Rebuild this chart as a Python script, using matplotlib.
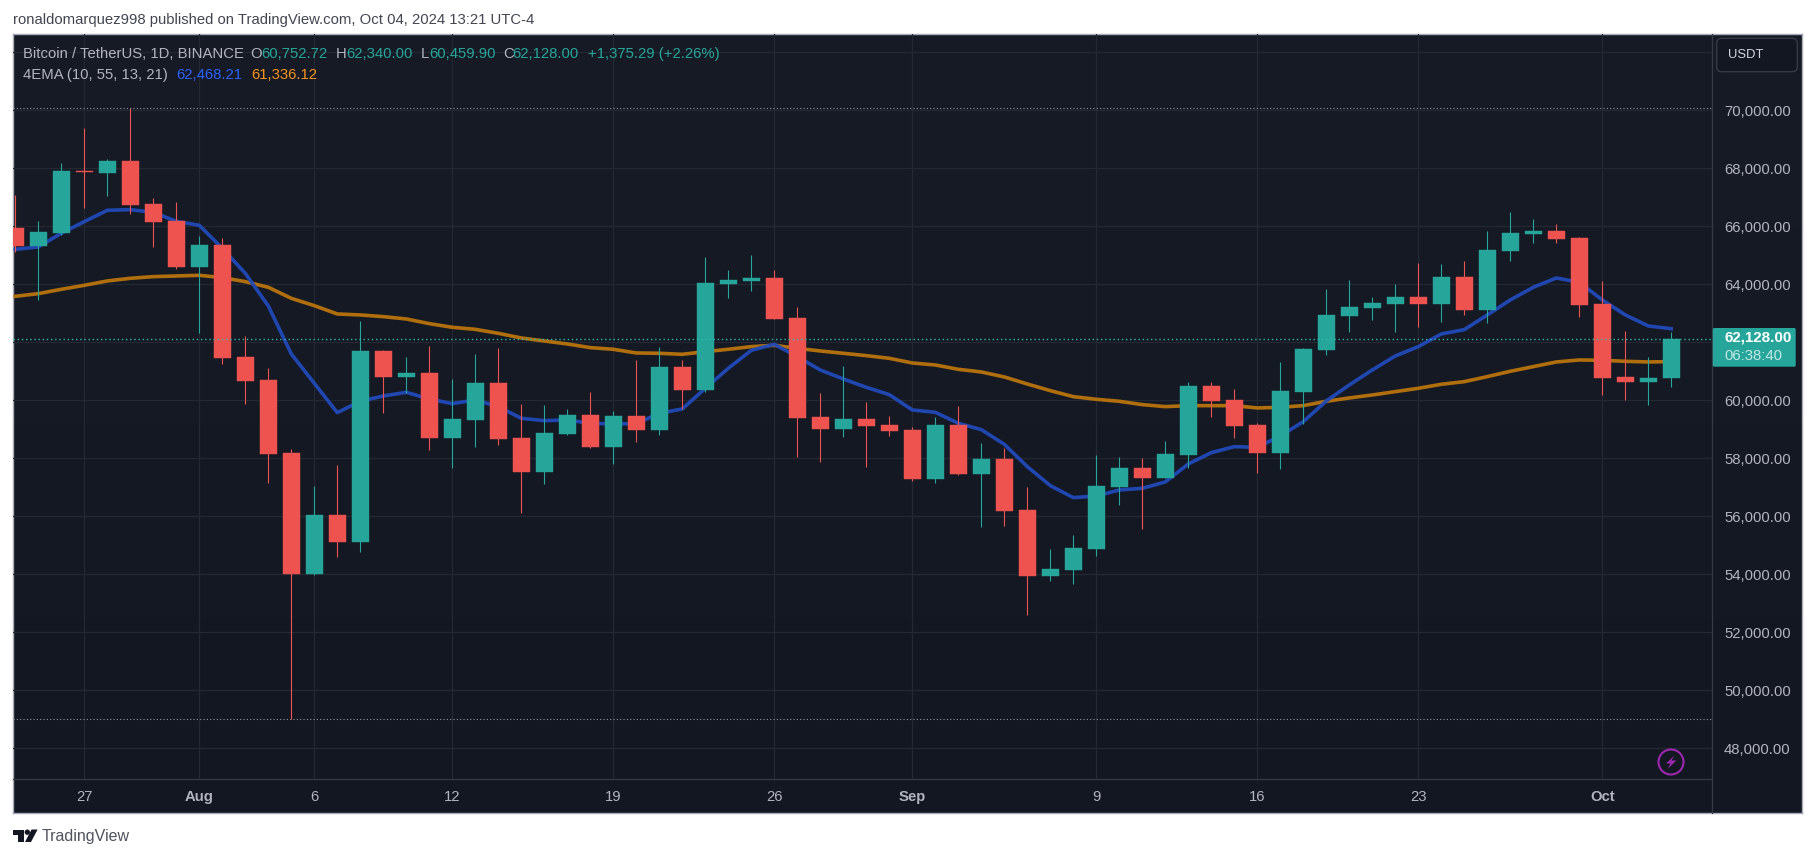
"""
BTC/USDT daily candles with two EMAs, dark TradingView snapshot style.
"""

import numpy as np
import pandas as pd
import matplotlib
matplotlib.use("Agg")
import matplotlib.pyplot as plt
import matplotlib.dates as mdates
from matplotlib.colors import LinearSegmentedColormap
from matplotlib.lines import Line2D
from matplotlib.patches import Circle, FancyBboxPatch, Polygon

# =============================================================================
# DATA (daily, 2024-07-24 -> 2024-10-04)
# =============================================================================

START_DATE = "2024-07-24"

OPENS = [
    65942, 65322, 65770, 67908, 67839, 68253, 66770, 66184, 64598, 65356,
    61494, 60701, 58184, 54012, 56046, 55115, 61701, 60805, 60943, 58701,
    59322, 60598, 58701, 57529, 58839, 59494, 58391, 59460, 58977, 61149,
    60356, 64011, 64115, 64218, 62839, 59425, 59012, 59356, 59149, 58977,
    57287, 59149, 57460, 57977, 56218, 53943, 54150, 54874, 57012, 57667,
    57322, 58115, 60494, 60011, 59149, 58184, 60287, 61736, 62908, 63184,
    63322, 63563, 63322, 64253, 63115, 65149, 65736, 65839, 65598, 63322,
    60805, 60632, 60752.72,
]
HIGHS = [
    67080, 66184, 68184, 69391, 68322, 70079, 66977, 66839, 65667, 65598,
    62218, 61115, 58322, 57046, 57770, 62736, 61736, 61494, 61874, 60736,
    61598, 61805, 59874, 59839, 59701, 60287, 59632, 61391, 61839, 61391,
    64942, 64494, 65011, 64494, 63218, 60253, 61184, 59943, 59460, 59081,
    59425, 59805, 58529, 58356, 57012, 54874, 55356, 58115, 58046, 58012,
    58598, 60632, 60632, 60391, 59218, 61322, 61805, 63839, 64149, 63563,
    64011, 64736, 64701, 64805, 65839, 66494, 66253, 66080, 65620, 64115,
    62391, 61494, 62340.00,
]
LOWS = [
    65126, 63460, 65701, 66632, 67046, 66425, 65287, 64529, 62322, 61253,
    59874, 57150, 49000, 53977, 54598, 54770, 59563, 60253, 58287, 57667,
    58391, 58460, 56115, 57115, 58805, 58350, 57805, 58563, 58805, 59701,
    60300, 63529, 63770, 62805, 58046, 57874, 58736, 57701, 58770, 57218,
    57149, 57425, 55632, 55667, 52598, 53770, 53667, 54632, 56391, 55563,
    57322, 57667, 59425, 58701, 57494, 57632, 59184, 61563, 62356, 62770,
    62356, 62529, 62701, 62943, 62667, 64805, 65425, 65425, 62874, 60184,
    60011, 59839, 60459.90,
]
CLOSES = [
    65322, 65804, 67908, 67870, 68253, 66736, 66149, 64598, 65356, 61460,
    60667, 58161, 54012, 56046, 55115, 61701, 60805, 60943, 58701, 59356,
    60598, 58667, 57529, 58874, 59494, 58391, 59460, 58977, 61149, 60356,
    64046, 64149, 64218, 62805, 59391, 59012, 59356, 59115, 58943, 57287,
    59149, 57460, 57977, 56184, 53943, 54184, 54908, 57046, 57667, 57322,
    58149, 60494, 59977, 59115, 58184, 60322, 61770, 62943, 63218, 63356,
    63563, 63322, 64253, 63115, 65184, 65770, 65839, 65563, 63287, 60770,
    60632, 60770, 62128.00,
]

EMA_FAST = [
    65207, 65287, 65759, 66161, 66552, 66575, 66483, 66172, 66034, 65241,
    64379, 63253, 61598, 60586, 59575, 59966, 60149, 60276, 60046, 59885,
    60012, 59782, 59379, 59299, 59322, 59207, 59184, 59195, 59552, 59701,
    60414, 61103, 61724, 61931, 61506, 61046, 60736, 60448, 60195, 59667,
    59586, 59207, 58989, 58483, 57713, 57058, 56644, 56701, 56908, 56966,
    57184, 57805, 58195, 58402, 58379, 58770, 59264, 59977, 60529, 61046,
    61529, 61851, 62287, 62437, 62943, 63460, 63897, 64218, 64069, 63460,
    62943, 62563, 62468,
]
EMA_SLOW = [
    63586, 63678, 63828, 63965, 64115, 64207, 64264, 64287, 64310, 64230,
    64092, 63897, 63517, 63264, 62977, 62943, 62885, 62805, 62644, 62517,
    62448, 62310, 62149, 62046, 61943, 61816, 61759, 61632, 61621, 61586,
    61678, 61759, 61851, 61897, 61793, 61701, 61621, 61540, 61448, 61287,
    61218, 61069, 60977, 60805, 60563, 60333, 60126, 60035, 59966, 59851,
    59782, 59816, 59816, 59816, 59736, 59759, 59816, 59966, 60081, 60184,
    60299, 60414, 60552, 60644, 60816, 61000, 61161, 61322, 61391, 61379,
    61345, 61322, 61336,
]

PRICE_TICKS = [48000, 50000, 52000, 54000, 56000, 58000, 60000, 62000, 64000,
               66000, 68000, 70000, 72000]
# the 62,000.00 and 72,000.00 labels are hidden in the snapshot (tag / button)
PRICE_LABELS = [f"{p:,.2f}" if p not in (62000, 72000) else "" for p in PRICE_TICKS]
TIME_TICKS = ["2024-07-27", "2024-08-01", "2024-08-06", "2024-08-12",
              "2024-08-19", "2024-08-26", "2024-09-01", "2024-09-09",
              "2024-09-16", "2024-09-23", "2024-10-01"]
TIME_LABELS = ["27", "Aug", "6", "12", "19", "26", "Sep", "9", "16", "23", "Oct"]
MONTH_LABELS = ["Aug", "Sep", "Oct"]

RANGE_HIGH = 70079
RANGE_LOW = 49000
LAST_PRICE = 62128

# =============================================================================
# LAYOUT / STYLE
# =============================================================================

W, H = 1815, 858
PANE_L, PANE_R, PANE_T, PANE_B = 13, 1712.5, 34, 779.3
FRAME_R, FRAME_B = 1802.3, 813.3

# price scale: 58 px per 2000, 62000 sits at y=342.3
PX_PER_UNIT = 0.029
Y_TOP = 62000 + (342.3 - PANE_T) / PX_PER_UNIT
Y_BOTTOM = 62000 - (PANE_B - 342.3) / PX_PER_UNIT

# time scale: first candle at x=15.3, 23 px per day
PX_PER_DAY = 23.0
FIRST_X = 15.3

UP = "#26a69a"
DOWN = "#ef5350"
TEXT = "#b2b5be"
GRID = "#242833"
SEP = "#363a45"
BLUE = "#2149b8"
ORANGE = "#b06f0c"
FONT = "Liberation Sans"
FONT_SIZE = 10.7

plt.rcParams["font.family"] = [FONT, "DejaVu Sans"]


def fx(px):
    return px / W


def fy(py):
    return 1 - py / H


def ptext(fig, x, y, s, color=TEXT, size=FONT_SIZE, **kw):
    """Text placed in picture pixels, vertically centred on y."""
    return fig.text(fx(x), fy(y), s, color=color, fontsize=size, zorder=10,
                    va="center", ha=kw.pop("ha", "left"), **kw)


def draw_background(fig):
    bg = fig.add_axes([fx(PANE_L), fy(FRAME_B), fx(FRAME_R - PANE_L),
                       (FRAME_B - PANE_T) / H], zorder=0)
    cmap = LinearSegmentedColormap.from_list("pane", ["#171b26", "#131722"])
    bg.imshow(np.linspace(0, 1, 256).reshape(-1, 1), aspect="auto", cmap=cmap)
    bg.set_xticks([])
    bg.set_yticks([])
    for spine in bg.spines.values():
        spine.set_color("#a9acb6")
        spine.set_linewidth(1.0)


def draw_candles(ax, dates):
    opens = np.array(OPENS)
    closes = np.array(CLOSES)
    colors = [UP if c >= o else DOWN for o, c in zip(opens, closes)]

    ax.vlines(dates, LOWS, HIGHS, colors=colors, linewidth=0.8, zorder=4)
    ax.bar(dates, np.abs(closes - opens), bottom=np.minimum(opens, closes),
           width=17 / PX_PER_DAY, color=colors, edgecolor=colors,
           linewidth=0.3, zorder=5)


def draw_branding(fig):
    # little logo next to the bottom wordmark
    logo = fig.add_axes([0, 0, 1, 1], zorder=6)
    logo.set_xlim(0, W)
    logo.set_ylim(H, 0)
    logo.axis("off")
    logo.patch.set_alpha(0)
    logo.add_patch(Polygon([(13, 829.5), (24, 829.5), (24, 842), (18.5, 842),
                            (18.5, 835), (13, 835)], color="#131722", lw=0))
    logo.add_patch(Circle((27.3, 832.2), 2.7, color="#131722", lw=0))
    logo.add_patch(Polygon([(31.5, 829.5), (37.6, 829.5), (31, 842), (25, 842)],
                           color="#131722", lw=0))
    ptext(fig, 42, 836, "TradingView", color="#50535e", size=11.5)
    return logo


def draw_price_panel(fig, logo):
    # currency button
    logo.add_patch(FancyBboxPatch((1716.7, 38.3), 80.6, 33.4,
                                  boxstyle="round,pad=0,rounding_size=5",
                                  fc="#131722", ec=SEP, lw=1))
    ptext(fig, 1728.3, 55, "USDT", color="#d1d4dc", size=9.4)

    # last price tag
    logo.add_patch(FancyBboxPatch((1712.8, 328), 82.9, 38.7,
                                  boxstyle="round,pad=0,rounding_size=1.5",
                                  fc=UP, ec="none", lw=0))
    ptext(fig, 1724.3, 337.7, f"{LAST_PRICE:,.2f}", color="white", size=10.9,
          fontweight="bold")
    ptext(fig, 1724.3, 356, "06:38:40", color="#c4e7e3", size=10.7)

    # lightning badge
    logo.add_patch(Circle((1671, 762), 12.5, fc="none", ec="#9c27b0", lw=1.5))
    logo.add_patch(Polygon([(1674.5, 755.5), (1666, 763.5), (1670.5, 763.5),
                            (1667.5, 769), (1676.5, 760.5), (1671.5, 760.5)],
                           color="#9c27b0", lw=0))


def draw_legend(fig):
    y1, y2 = 53.7, 75
    ptext(fig, 13, 20, "ronaldomarquez998 published on TradingView.com, "
          "Oct 04, 2024 13:21 UTC-4", color="#434651")
    ptext(fig, 23.3, y1, "Bitcoin / TetherUS, 1D, BINANCE")
    for label, lx, value, vx in [("O", 250.3, "60,752.72", 261),
                                 ("H", 336, "62,340.00", 346),
                                 ("L", 421, "60,459.90", 429),
                                 ("C", 503.4, "62,128.00", 512.5)]:
        ptext(fig, lx, y1, label)
        ptext(fig, vx, y1, value, color=UP)
    ptext(fig, 588, y1, "+1,375.29 (+2.26%)", color=UP)
    ptext(fig, 23.3, y2, "4EMA (10, 55, 13, 21)")
    ptext(fig, 176, y2, "62,468.21", color="#2962ff")
    ptext(fig, 251, y2, "61,336.12", color="#f7931a")


def main():
    fig = plt.figure(figsize=(W / 100, H / 100), dpi=100, facecolor="white")
    draw_background(fig)

    ax = fig.add_axes([fx(PANE_L), fy(PANE_B), fx(PANE_R - PANE_L),
                       (PANE_B - PANE_T) / H], zorder=2)
    ax.patch.set_alpha(0)

    dates = mdates.date2num(pd.date_range(START_DATE, periods=len(OPENS)))
    ax.set_xlim(dates[0] + (PANE_L - FIRST_X) / PX_PER_DAY,
                dates[0] + (PANE_R - FIRST_X) / PX_PER_DAY)
    ax.set_ylim(Y_BOTTOM, Y_TOP)

    ax.set_yticks(PRICE_TICKS, PRICE_LABELS)
    ax.yaxis.tick_right()
    ax.set_xticks(mdates.date2num(pd.to_datetime(TIME_TICKS)), TIME_LABELS)
    ax.tick_params(axis="y", length=0, pad=8.3, labelsize=FONT_SIZE, labelcolor=TEXT)
    ax.tick_params(axis="x", length=0, pad=7.5, labelsize=FONT_SIZE, labelcolor=TEXT)
    for tick in ax.get_xticklabels():
        if tick.get_text() in MONTH_LABELS:
            tick.set_fontweight("bold")
    ax.grid(True, color=GRID, linewidth=0.9, zorder=0)
    ax.set_axisbelow(True)

    for side in ("top", "left"):
        ax.spines[side].set_visible(False)
    for side in ("right", "bottom"):
        ax.spines[side].set_color(SEP)
        ax.spines[side].set_linewidth(0.9)

    ax.plot(dates, EMA_SLOW, color=ORANGE, linewidth=2.6, zorder=3,
            solid_joinstyle="round")
    ax.plot(dates, EMA_FAST, color=BLUE, linewidth=2.6, zorder=3,
            solid_joinstyle="round", alpha=0.95)
    draw_candles(ax, dates)

    ax.axhline(RANGE_HIGH, color="#9598a1", linestyle=(0, (1, 2)), linewidth=0.8, zorder=6)
    ax.axhline(RANGE_LOW, color="#9598a1", linestyle=(0, (1, 2)), linewidth=0.8, zorder=6)
    ax.axhline(LAST_PRICE, color="#2bbdaf", linestyle=(0, (1, 2)), linewidth=1.0, zorder=6)

    fig.add_artist(Line2D([fx(PANE_R), fx(PANE_R)], [fy(PANE_B), fy(FRAME_B)],
                          color=SEP, linewidth=0.9))

    logo = draw_branding(fig)
    draw_price_panel(fig, logo)
    draw_legend(fig)

    fig.savefig("out.png", dpi=100, facecolor="white")


if __name__ == "__main__":
    main()
